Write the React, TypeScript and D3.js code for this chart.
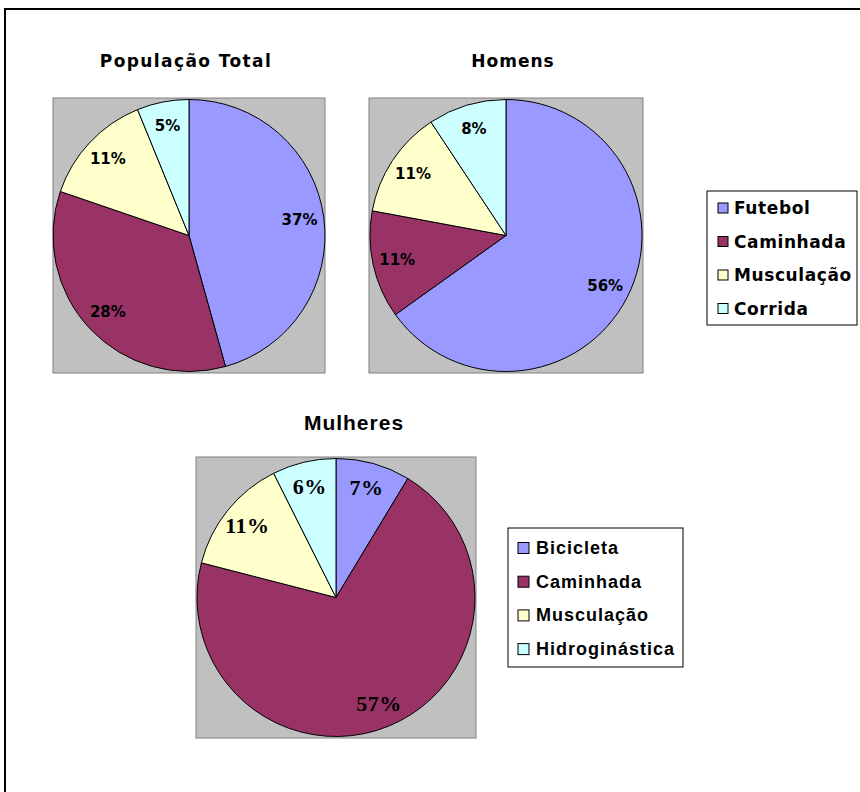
import React from "react";
import * as d3 from "d3";

const categoriesA = ["Futebol", "Caminhada", "Musculação", "Corrida"];
const totalValues = [37, 28, 11, 5];
const homensValues = [56, 11, 11, 8];
const categoriesB = ["Bicicleta", "Caminhada", "Musculação", "Hidroginástica"];
const mulheresValues = [7, 57, 11, 6];
const colors = ["#9999FF", "#993366", "#FFFFCC", "#CCFFFF"];
const titles = ["População Total", "Homens", "Mulheres"];

const tahoma = "'DejaVu Sans', Verdana, sans-serif";
const arial = "'Liberation Sans', Arial, sans-serif";

type PieProps = {
  values: number[];
  box: [number, number, number, number];
  cx: number;
  cy: number;
  r: number;
  labelFont: string;
  labelSize: number;
  labelSpacing?: number;
};

function Pie({ values, box, cx, cy, r, labelFont, labelSize, labelSpacing = 0 }: PieProps) {
  const pie = d3.pie<number>().sort(null).value((d) => d);
  const arcs = pie(values);
  const arc = d3.arc<d3.PieArcDatum<number>>().innerRadius(0).outerRadius(r);
  const labelArc = d3
    .arc<d3.PieArcDatum<number>>()
    .innerRadius(r * 0.82)
    .outerRadius(r * 0.82);
  return (
    <g>
      <rect x={box[0]} y={box[1]} width={box[2]} height={box[3]} fill="#C0C0C0" stroke="#808080" strokeWidth={1} />
      <g transform={`translate(${cx},${cy})`}>
        {arcs.map((a, i) => (
          <path key={i} d={arc(a) || ""} fill={colors[i]} stroke="#000" strokeWidth={1} />
        ))}
        {arcs.map((a, i) => {
          const [x, y] = labelArc.centroid(a);
          return (
            <text
              key={"l" + i}
              x={x}
              y={y}
              textAnchor="middle"
              dominantBaseline="central"
              fontFamily={labelFont}
              fontWeight="bold"
              fontSize={labelSize}
              letterSpacing={labelSpacing}
              fill="#000"
            >
              {`${values[i]}%`}
            </text>
          );
        })}
      </g>
    </g>
  );
}

type LegendProps = {
  items: string[];
  box: [number, number, number, number];
  x0: number;
  y0: number;
  step: number;
  sw: number;
  font: string;
  size: number;
  spacing: number;
  textX: number;
};

function Legend({ items, box, x0, y0, step, sw, font, size, spacing, textX }: LegendProps) {
  return (
    <g>
      <rect x={box[0]} y={box[1]} width={box[2]} height={box[3]} fill="#fff" stroke="#000" strokeWidth={1} />
      {items.map((it, i) => (
        <g key={i}>
          <rect x={x0} y={y0 + i * step - sw / 2} width={sw} height={sw} fill={colors[i]} stroke="#000" strokeWidth={1} />
          <text
            x={textX}
            y={y0 + i * step}
            dominantBaseline="central"
            fontFamily={font}
            fontWeight="bold"
            fontSize={size}
            letterSpacing={spacing}
            fill="#000"
          >
            {it}
          </text>
        </g>
      ))}
    </g>
  );
}

export default function App() {
  return (
    <svg width={860} height={792} style={{ position: "absolute", left: 0, top: 0, background: "#fff" }}>
      <rect x={0} y={0} width={860} height={792} fill="#fff" />
      <path d="M5,800 L5,9 L870,9" fill="none" stroke="#000" strokeWidth={2} />

      <text x={186} y={67} textAnchor="middle" fontFamily={tahoma} fontWeight="bold" fontSize={17} letterSpacing={1.4}>
        {titles[0]}
      </text>
      <text x={513} y={67} textAnchor="middle" fontFamily={tahoma} fontWeight="bold" fontSize={17} letterSpacing={1}>
        {titles[1]}
      </text>
      <text x={354} y={430} textAnchor="middle" fontFamily={arial} fontWeight="bold" fontSize={21} letterSpacing={1}>
        {titles[2]}
      </text>

      <Pie values={totalValues} box={[53, 98, 272, 275]} cx={189} cy={235.5} r={136} labelFont={tahoma} labelSize={15} />
      <Pie values={homensValues} box={[369, 98, 274, 275]} cx={506} cy={235.5} r={136} labelFont={tahoma} labelSize={15} />
      <Pie
        values={mulheresValues}
        box={[196, 457, 280, 281]}
        cx={336}
        cy={597.5}
        r={139}
        labelFont={"'Liberation Serif', 'Times New Roman', serif"}
        labelSize={22}
        labelSpacing={0.5}
      />

      <Legend
        items={categoriesA}
        box={[707, 191, 150, 134]}
        x0={718}
        y0={208}
        step={33.5}
        sw={10}
        font={tahoma}
        size={17}
        spacing={0.6}
        textX={734}
      />
      <Legend
        items={categoriesB}
        box={[508, 528, 175, 139]}
        x0={518}
        y0={548}
        step={33.7}
        sw={11}
        font={arial}
        size={18}
        spacing={1}
        textX={536}
      />
    </svg>
  );
}
